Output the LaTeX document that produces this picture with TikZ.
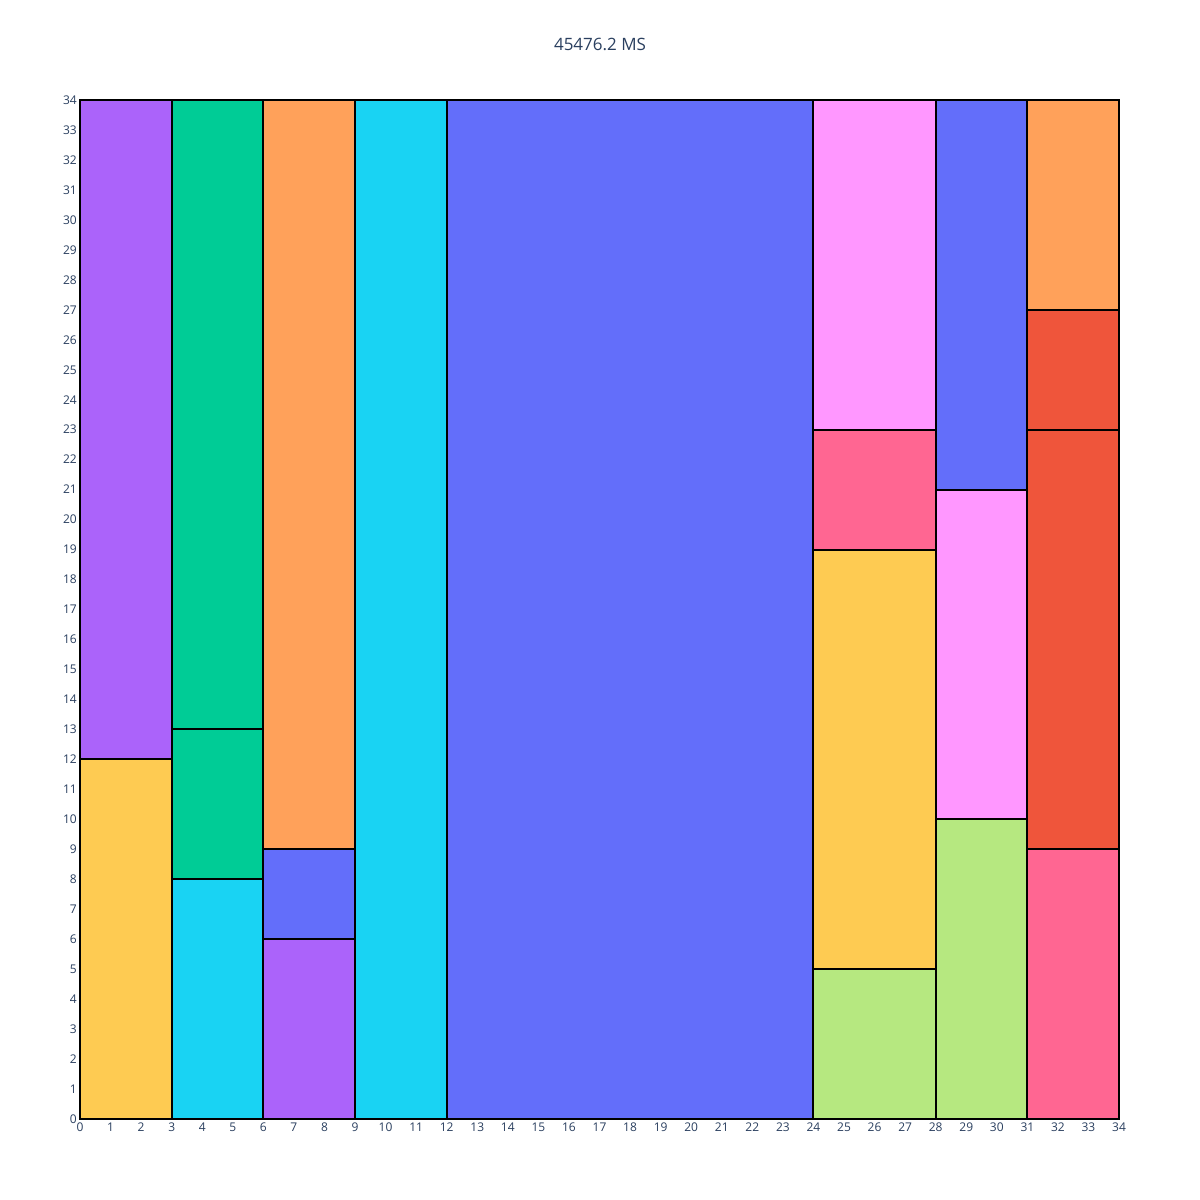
\documentclass[tikz,border=0pt]{standalone}
\usepackage{fontspec}
\setmainfont{Open Sans}
\definecolor{pblue}{HTML}{636EFA}
\definecolor{pred}{HTML}{EF553B}
\definecolor{pgreen}{HTML}{00CC96}
\definecolor{ppurple}{HTML}{AB63FA}
\definecolor{porange}{HTML}{FFA15A}
\definecolor{pcyan}{HTML}{19D3F3}
\definecolor{ppink}{HTML}{FF6692}
\definecolor{plgreen}{HTML}{B6E880}
\definecolor{plpink}{HTML}{FF97FF}
\definecolor{pyellow}{HTML}{FECB52}
\definecolor{ptext}{HTML}{2A3F5F}
\tikzset{
  cell/.style={draw=black, line width=2pt},
  ticklab/.style={text=ptext, font=\fontsize{12}{14}\selectfont, inner sep=0pt},
  titlelab/.style={text=ptext, font=\fontsize{17}{20}\selectfont, inner sep=0pt}
}
\begin{document}
\begin{tikzpicture}[x=1pt,y=1pt]
\useasboundingbox[fill=white] (0,0) rectangle (1200,1200);
\node[titlelab] (title) at (600,1156) {45476.2 MS};
\begin{scope}[shift={(80,81)}, x=30.56pt, y=29.97pt]
\foreach \xa/\ya/\xb/\yb/\c in {
  0/0/3/12/pyellow, 0/12/3/34/ppurple,
  3/0/6/8/pcyan, 3/8/6/13/pgreen, 3/13/6/34/pgreen,
  6/0/9/6/ppurple, 6/6/9/9/pblue, 6/9/9/34/porange,
  9/0/12/34/pcyan,
  12/0/24/34/pblue,
  24/0/28/5/plgreen, 24/5/28/19/pyellow, 24/19/28/23/ppink, 24/23/28/34/plpink,
  28/0/31/10/plgreen, 28/10/31/21/plpink, 28/21/31/34/pblue,
  31/0/34/9/ppink, 31/9/34/23/pred, 31/23/34/27/pred, 31/27/34/34/porange}
  {\filldraw[cell, fill=\c] (\xa,\ya) rectangle (\xb,\yb);}
\foreach \i in {0,...,34} {
  \node[ticklab, anchor=east] (yl\i) at ([xshift=-3pt]0,\i) {\i};
  \node[ticklab, anchor=north] (xl\i) at ([yshift=-4pt]\i,0) {\i};
}
\end{scope}
\end{tikzpicture}
\end{document}
